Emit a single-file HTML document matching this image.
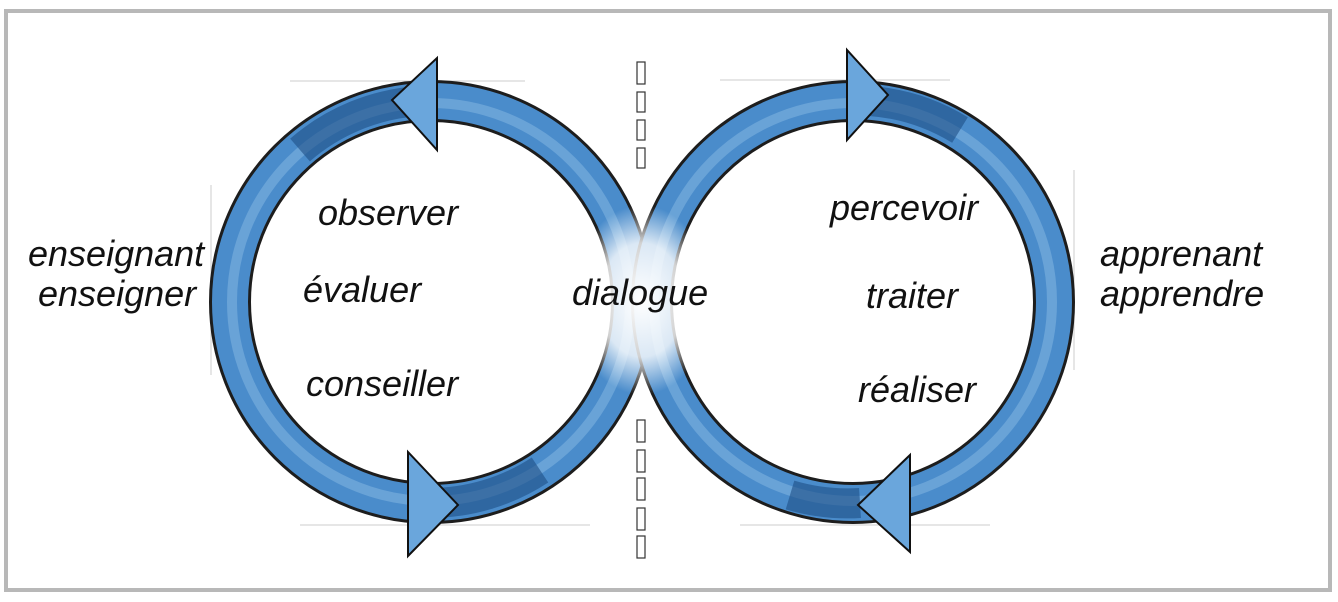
<!DOCTYPE html>
<html><head><meta charset="utf-8"><style>
html,body{margin:0;padding:0;background:#fff;}
svg{display:block}
text{font-family:"Liberation Sans",sans-serif;font-style:italic;fill:#111;}
</style></head><body>
<svg width="1338" height="602" viewBox="0 0 1338 602">
<defs>
<radialGradient id="glow" cx="0.5" cy="0.5" r="0.5">
<stop offset="0" stop-color="#fff" stop-opacity="1"/>
<stop offset="0.6" stop-color="#fff" stop-opacity="0.8"/>
<stop offset="1" stop-color="#fff" stop-opacity="0"/>
</radialGradient>
</defs>
<rect x="6" y="11" width="1324" height="579" fill="#fff" stroke="#b8b8b8" stroke-width="4"/>
<!-- guide lines -->
<g stroke="#ccc" stroke-width="1">
<line x1="290" y1="81" x2="525" y2="81"/><line x1="300" y1="525" x2="590" y2="525"/>
<line x1="720" y1="80" x2="950" y2="80"/><line x1="740" y1="525" x2="990" y2="525"/>
<line x1="211" y1="185" x2="211" y2="375"/><line x1="1074" y1="170" x2="1074" y2="370"/>
</g>
<!-- rings -->
<circle cx="431" cy="302" r="201" fill="none" stroke="#1d1d1d" stroke-width="42"/>
<circle cx="431" cy="302" r="201" fill="none" stroke="#4a8ccb" stroke-width="36"/>
<circle cx="431" cy="302" r="199" fill="none" stroke="#7fb3e0" stroke-width="10" opacity="0.6"/>
<circle cx="853" cy="302" r="201" fill="none" stroke="#1d1d1d" stroke-width="42"/>
<circle cx="853" cy="302" r="201" fill="none" stroke="#4a8ccb" stroke-width="36"/>
<circle cx="853" cy="302" r="199" fill="none" stroke="#7fb3e0" stroke-width="10" opacity="0.6"/>
<!-- dark shading -->
<path d="M300 150 A201 201 0 0 1 420 101" fill="none" stroke="#1e4f86" stroke-width="30" opacity="0.6"/>
<path d="M430 503 A201 201 0 0 0 540 470" fill="none" stroke="#1e4f86" stroke-width="30" opacity="0.6"/>
<path d="M870 101 A201 201 0 0 1 960 130" fill="none" stroke="#1e4f86" stroke-width="30" opacity="0.6"/>
<path d="M790 495 A201 201 0 0 0 860 503" fill="none" stroke="#1e4f86" stroke-width="30" opacity="0.6"/>
<!-- center glow -->
<ellipse cx="642" cy="300" rx="70" ry="95" fill="url(#glow)"/>
<!-- dashed center column -->
<g fill="none" stroke="#333" stroke-width="1.2">
<rect x="637" y="62" width="8" height="22"/><rect x="637" y="92" width="8" height="20"/><rect x="637" y="120" width="8" height="20"/><rect x="637" y="148" width="8" height="20"/>
<rect x="637" y="420" width="8" height="22"/><rect x="637" y="450" width="8" height="22"/><rect x="637" y="478" width="8" height="22"/><rect x="637" y="508" width="8" height="22"/><rect x="637" y="536" width="8" height="22"/>
</g>
<!-- arrowheads -->
<g stroke="#111" stroke-width="2" fill="#6aa6dc">
<polygon points="437,58 437,150 392,100"/>
<polygon points="408,452 408,556 458,505"/>
<polygon points="847,50 847,140 888,95"/>
<polygon points="910,455 910,552 858,505"/>
</g>
<!-- labels -->
<g font-size="36">
<text x="318" y="225">observer</text>
<text x="303" y="302">évaluer</text>
<text x="306" y="396">conseiller</text>
<text x="572" y="305">dialogue</text>
<text x="830" y="220">percevoir</text>
<text x="866" y="308">traiter</text>
<text x="858" y="402">réaliser</text>
<text x="28" y="266">enseignant</text>
<text x="38" y="306">enseigner</text>
<text x="1100" y="266">apprenant</text>
<text x="1100" y="306">apprendre</text>
</g>
</svg>
</body></html>
